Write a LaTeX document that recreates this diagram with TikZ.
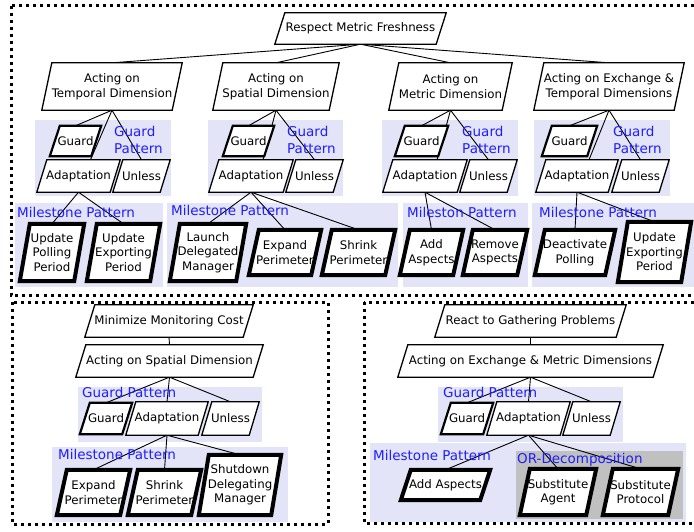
\documentclass[tikz,border=0pt]{standalone}
\usepackage{fontspec}
\setmainfont{DejaVu Sans}
\newcommand\goalfont{\fontsize{11.8}{14.5}\selectfont}
\newcommand\patfont{\fontsize{13.5}{16.5}\selectfont}
\definecolor{panelbg}{RGB}{228,228,248}
\definecolor{orbg}{RGB}{192,192,192}
\definecolor{patblue}{RGB}{30,30,255}
\pgfdeclarelayer{panel}
\pgfdeclarelayer{edge}
\pgfdeclarelayer{shape}
\pgfsetlayers{panel,edge,shape,main}
\tikzset{
	goal/.style={inner sep=0pt, align=center, font=\goalfont,
		append after command={\pgfextra{
			\begin{pgfonlayer}{shape}
				\filldraw[fill=white, line width=#1, line join=miter]
					([xshift=5pt]\tikzlastnode.north west) -- ([xshift=5pt]\tikzlastnode.north east)
					-- ([xshift=-5pt]\tikzlastnode.south east) -- ([xshift=-5pt]\tikzlastnode.south west) -- cycle;
			\end{pgfonlayer}}}},
	goal/.default=1.3pt,
	guard/.style={goal=2.2pt},
	task/.style={goal=4pt},
	dims/.style 2 args={minimum width=#1pt, minimum height=#2pt},
	pattern/.style={text=patblue, font=\patfont, inner sep=0pt, anchor=west, align=left},
	link/.style={black, line width=0.9pt},
	frame/.style={black, line width=3pt, dash pattern=on 3pt off 4pt},
	panel/.style={fill=panelbg, draw=none}
}
\begin{document}
\begin{tikzpicture}[x=1pt, y=-1pt]
	\useasboundingbox (0, 0) rectangle (694, 531);
	% panels
	\begin{pgfonlayer}{panel}
		\foreach \l/\t/\r/\b in {35/120/171/196, 208/120/343/196, 382/120/518/196, 534/120/670/196,
				15/203/163/287, 167/203/398/287, 403/203/528/287, 532/203/694/287,
				78/387/262/442, 52/447/288/522, 438/387/623/442, 370/443/686/522}
			\fill[panel] (\l, \t) rectangle (\r, \b);
		\fill[orbg] (516, 451) rectangle (683, 519);
	\end{pgfonlayer}
	% frames
	\draw[frame] (11, 5.5) rectangle (700, 295);
	\draw[frame] (12, 302) rectangle (328, 524);
	\draw[frame] (364, 302) rectangle (700, 523);

	% respect metric freshness
	\node[goal, dims={161}{31}] at (360.5, 28.5) (fresh) {Respect Metric Freshness};
	\node[goal, dims={130}{47}] at (112, 86.5) (actT) {Acting on\\Temporal Dimension};
	\node[goal, dims={116}{47}] at (276, 86.5) (actS) {Acting on\\Spatial Dimension};
	\node[goal, dims={113}{47}] at (450.5, 86.5) (actM) {Acting on\\Metric Dimension};
	\node[goal, dims={140}{47}] at (609, 86.5) (actET) {Acting on Exchange \&\\Temporal Dimensions};

	\node[guard, dims={41}{30}] at (75.5, 141) (guardT) {Guard};
	\node[guard, dims={41}{30}] at (248.5, 141) (guardS) {Guard};
	\node[guard, dims={43}{30}] at (421.5, 141) (guardM) {Guard};
	\node[guard, dims={45}{30}] at (569.5, 141) (guardET) {Guard};
	\node[goal, dims={73}{32}] at (78.5, 176) (adaptT) {Adaptation};
	\node[goal, dims={74}{32}] at (251, 176) (adaptS) {Adaptation};
	\node[goal, dims={74}{32}] at (425, 176) (adaptM) {Adaptation};
	\node[goal, dims={72}{32}] at (577, 176) (adaptET) {Adaptation};
	\node[goal, dims={47}{32}] at (141.5, 176) (unlessT) {Unless};
	\node[goal, dims={47}{32}] at (314.5, 176) (unlessS) {Unless};
	\node[goal, dims={47}{32}] at (488.5, 176) (unlessM) {Unless};
	\node[goal, dims={47}{32}] at (640.5, 176) (unlessET) {Unless};

	\node[task, dims={54}{57}] at (52, 252.5) (updPoll) {Update\\Polling\\Period};
	\node[task, dims={63}{57}] at (123.5, 252.5) (updExpT) {Update\\Exporting\\Period};
	\node[task, dims={66}{57}] at (208, 252.5) (launch) {Launch\\Delegated\\Manager};
	\node[task, dims={62}{45}] at (285, 252.5) (expandS) {Expand\\Perimeter};
	\node[task, dims={63}{45}] at (358.5, 252.5) (shrinkS) {Shrink\\Perimeter};
	\node[task, dims={53}{45}] at (431.5, 252.5) (addM) {Add\\Aspects};
	\node[task, dims={54}{45}] at (495, 252.5) (removeM) {Remove\\Aspects};
	\node[task, dims={70}{45}] at (575, 252.5) (deactET) {Deactivate\\Polling};
	\node[task, dims={63}{60}] at (654.5, 252) (updExpET) {Update\\Exporting\\Period};

	\node[pattern] at (114, 140) (gpT) {Guard\\Pattern};
	\node[pattern] at (287, 140) (gpS) {Guard\\Pattern};
	\node[pattern] at (462, 140) (gpM) {Guard\\Pattern};
	\node[pattern] at (613, 140) (gpET) {Guard\\Pattern};
	\node[pattern] at (17, 212) (mpT) {Milestone Pattern};
	\node[pattern] at (171, 210) (mpS) {Milestone Pattern};
	\node[pattern] at (407, 212) (mpM) {Mileston Pattern};
	\node[pattern] at (539, 212) (mpET) {Milestone Pattern};

	% minimize monitoring cost
	\node[goal, dims={158}{32}] at (169, 321) (cost) {Minimize Monitoring Cost};
	\node[goal, dims={177}{32}] at (169.5, 361) (actS2) {Acting on Spatial Dimension};
	\node[guard, dims={42}{31}] at (106, 418.5) (guardC) {Guard};
	\node[goal, dims={72}{33}] at (167, 418.5) (adaptC) {Adaptation};
	\node[goal, dims={47}{33}] at (230.5, 418.5) (unlessC) {Unless};
	\node[task, dims={63}{45}] at (93.5, 492.5) (expandC) {Expand\\Perimeter};
	\node[task, dims={63}{45}] at (164.5, 492.5) (shrinkC) {Shrink\\Perimeter};
	\node[task, dims={72}{60}] at (240, 485) (shutdown) {Shutdown\\Delegating\\Manager};
	\node[pattern] at (82, 392) (gpC) {Guard Pattern};
	\node[pattern] at (58, 454) (mpC) {Milestone Pattern};

	% react to gathering problems
	\node[goal, dims={181}{32}] at (530.5, 321) (react) {React to Gathering Problems};
	\node[goal, dims={255}{32}] at (530.5, 361) (actEM) {Acting on Exchange \& Metric Dimensions};
	\node[guard, dims={42}{31}] at (467, 418.5) (guardR) {Guard};
	\node[goal, dims={73}{33}] at (528.5, 418.5) (adaptR) {Adaptation};
	\node[goal, dims={47}{33}] at (591.5, 418.5) (unlessR) {Unless};
	\node[task, dims={79}{30}] at (445.5, 485) (addR) {Add Aspects};
	\node[task, dims={66}{46}] at (558, 492) (subAgent) {Substitute\\Agent};
	\node[task, dims={65}{46}] at (640.5, 492) (subProto) {Substitute\\Protocol};
	\node[pattern] at (443, 392) (gpR) {Guard Pattern};
	\node[pattern] at (373, 455) (mpR) {Milestone Pattern};
	\node[pattern] at (517, 460) (orR) {OR-Decomposition};

	% links
	\begin{pgfonlayer}{edge}
		\foreach \p/\c in {fresh/actT, fresh/actS, fresh/actM, fresh/actET,
				actT/guardT, actT/unlessT, actS/guardS, actS/unlessS,
				actM/guardM, actM/unlessM, actET/guardET, actET/unlessET,
				adaptT/updPoll, adaptT/updExpT, adaptS/launch, adaptS/expandS, adaptS/shrinkS,
				adaptM/addM, adaptM/removeM, adaptET/deactET, adaptET/updExpET,
				cost/actS2, actS2/guardC, actS2/adaptC, actS2/unlessC,
				adaptC/expandC, adaptC/shrinkC, adaptC/shutdown,
				react/actEM, actEM/guardR, actEM/adaptR, actEM/unlessR,
				adaptR/addR, adaptR/subAgent, adaptR/subProto}
			\draw[link] (\p.south) -- (\c.north);
		\foreach \p/\c in {actT/adaptT, actS/adaptS, actM/adaptM, actET/adaptET}
			\draw[link] (\p.south) -- ([xshift=12pt]\c.north);
	\end{pgfonlayer}
\end{tikzpicture}
\end{document}
